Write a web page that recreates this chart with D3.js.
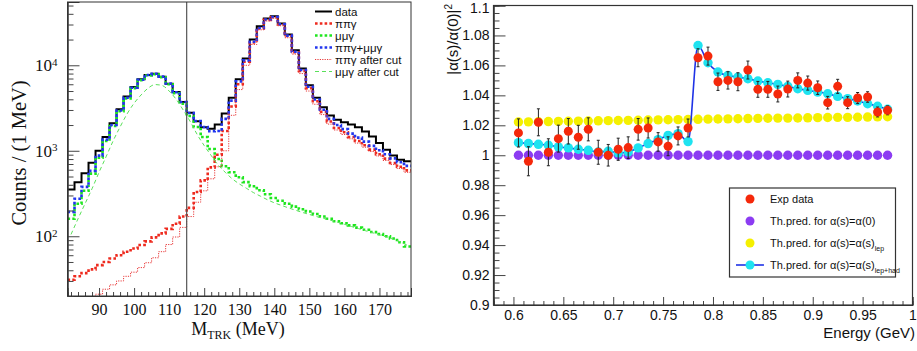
<!DOCTYPE html>
<html>
<head>
<meta charset="utf-8">
<script src="https://cdn.jsdelivr.net/npm/d3@7"></script>
<style>
  body { margin: 0; background: #fff; }
  svg { display: block; }
</style>
</head>
<body>
<div class="chart"></div>
<script>
// ---------- left panel: M_TRK spectrum (2 MeV bins) ----------
const massBins = [82, 84, 86, 88, 90, 92, 94, 96, 98, 100, 102, 104, 106, 108, 110, 112, 114, 116, 118, 120,
  122, 124, 126, 128, 130, 132, 134, 136, 138, 140, 142, 144, 146, 148, 150, 152, 154, 156, 158, 160,
  162, 164, 166, 168, 170, 172, 174, 176, 178];

const dataCounts = [352, 428, 546, 723, 1000, 1445, 2100, 3070, 4300, 5570, 6850, 7690, 7980, 7360, 6100, 4860, 3720, 2790, 2220, 1890,
  1810, 2030, 2720, 4180, 6850, 12000, 20000, 28600, 35200, 37500, 30800, 22900, 15000, 9150, 5830, 4180, 3240, 2590, 2300, 2160,
  2030, 1890, 1680, 1470, 1230, 1030, 881, 784, 756];

const pipiCounts = [31, 34, 37, 41, 46, 50, 55, 60, 66, 72, 79, 87, 97, 108, 122, 140, 170, 215, 330, 450,
  640, 900, 1700, 3300, 6000, 11000, 18500, 27000, 34000, 36500, 30000, 22000, 14200, 8600, 5400, 3800, 2850, 2200, 1850, 1650,
  1450, 1300, 1160, 1030, 910, 810, 720, 650, 590];

const mumuCounts = [160, 240, 340, 540, 830, 1300, 1950, 2900, 4100, 5400, 6700, 7600, 7850, 7250, 6000, 4700, 3550, 2550, 1900, 1450,
  1050, 800, 660, 560, 490, 430, 385, 345, 310, 280, 260, 240, 222, 207, 195, 182, 170, 160, 150, 142,
  134, 126, 119, 112, 106, 100, 94, 85, 76];

const sumCounts = [193, 275, 378, 582, 877, 1350, 2005, 2960, 4170, 5470, 6780, 7690, 7950, 7360, 6120, 4840, 3720, 2765, 2230, 1900,
  1690, 1700, 2360, 3860, 6490, 11430, 18890, 27350, 34310, 36780, 30260, 22240, 14420, 8810, 5600, 3980, 3020, 2360, 2000, 1790,
  1585, 1425, 1280, 1140, 1015, 910, 815, 735, 666];

const pipiCutCounts = [18, 18, 19, 19.5, 21, 24, 27, 30, 34, 38, 43, 49, 56, 66, 80, 98, 127, 170, 250, 340,
  470, 650, 1000, 2600, 5200, 10000, 17500, 26000, 33000, 35500, 29000, 21000, 13500, 8000, 5000, 3500, 2650, 2050, 1750, 1550,
  1380, 1230, 1100, 980, 870, 770, 690, 620, 560];

const mumuCutCounts = [105, 160, 240, 360, 560, 850, 1300, 1900, 2700, 3600, 4500, 5400, 5950, 5800, 5000, 4000, 3000, 2200, 1550, 1150,
  880, 680, 560, 470, 410, 365, 325, 295, 268, 246, 230, 215, 202, 190, 180, 170, 162, 154, 146, 138,
  130, 123, 116, 110, 104, 98, 92, 86, 78];

const massTicks = [90, 100, 110, 120, 130, 140, 150, 160, 170];
const countTicks = [100, 1000, 10000];
const cutMass = 115;

// ---------- right panel: |alpha(s)/alpha(0)|^2 ----------
const energies = [0.605, 0.615, 0.625, 0.635, 0.645, 0.655, 0.665, 0.675, 0.685, 0.695, 0.705, 0.715, 0.725,
  0.735, 0.745, 0.755, 0.765, 0.775, 0.785, 0.795, 0.805, 0.815, 0.825, 0.835, 0.845, 0.855, 0.865,
  0.875, 0.885, 0.895, 0.905, 0.915, 0.925, 0.935, 0.945, 0.955, 0.965, 0.975];

const expRatio = [1.0149, 0.9960, 1.0220, 1.0020, 1.0111, 1.0160, 1.0120, 1.0173, 1.0020, 1.0000, 1.0040, 1.0051, 1.0173,
  1.0182, 1.0089, 1.0060, 1.0129, 1.0182, 1.0651, 1.0662, 1.0491, 1.0500, 1.0491, 1.0569, 1.0440, 1.0440, 1.0409,
  1.0442, 1.0500, 1.0482, 1.0451, 1.0351, 1.0460, 1.0351, 1.0382, 1.0389, 1.0289, 1.0300];

const expError = [0.0094, 0.0097, 0.0090, 0.0090, 0.0090, 0.0085, 0.0080, 0.0077, 0.0080, 0.0072, 0.0074, 0.0072, 0.0072,
  0.0067, 0.0062, 0.0063, 0.0060, 0.0060, 0.0060, 0.0060, 0.0058, 0.0058, 0.0060, 0.0060, 0.0053, 0.0053, 0.0053,
  0.0053, 0.0050, 0.0047, 0.0045, 0.0042, 0.0047, 0.0040, 0.0037, 0.0035, 0.0033, 0.0030];

const predAlpha0 = [1, 1, 1, 1, 1, 1, 1, 1, 1, 1, 1, 1, 1, 1, 1, 1, 1, 1, 1,
  1, 1, 1, 1, 1, 1, 1, 1, 1, 1, 1, 1, 1, 1, 1, 1, 1, 1, 1];

const predLep = [1.0222, 1.0223, 1.0224, 1.0225, 1.0226, 1.0227, 1.0228, 1.0229, 1.0230, 1.0231, 1.0232, 1.0233, 1.0234,
  1.0235, 1.0236, 1.0237, 1.0238, 1.0239, 1.0240, 1.0241, 1.0242, 1.0243, 1.0244, 1.0245, 1.0246, 1.0247, 1.0248,
  1.0248, 1.0249, 1.0250, 1.0251, 1.0252, 1.0253, 1.0253, 1.0254, 1.0255, 1.0256, 1.0257];

const predLepHad = [1.0084, 1.0078, 1.0073, 1.0067, 1.0056, 1.0049, 1.0040, 1.0033, 1.0022, 1.0027, 1.0016, 1.0022, 1.0049,
  1.0078, 1.0104, 1.0133, 1.0144, 1.0091, 1.0733, 1.0618, 1.0556, 1.0533, 1.0522, 1.0511, 1.0496, 1.0484, 1.0473,
  1.0460, 1.0444, 1.0433, 1.0422, 1.0411, 1.0393, 1.0378, 1.0362, 1.0344, 1.0327, 1.0307];

const energyTicks = [0.6, 0.65, 0.7, 0.75, 0.8, 0.85, 0.9, 0.95, 1];
const ratioTicks = [0.9, 0.92, 0.94, 0.96, 0.98, 1, 1.02, 1.04, 1.06, 1.08, 1.1];

const svg = d3.select('.chart')
  .append('svg')
    .attr('width', 917)
    .attr('height', 351);

const serif = 'Liberation Serif, Times New Roman, serif';
const sans = 'Liberation Sans, Arial, Helvetica, sans-serif';

// ====================== left panel ======================
let L = { left: 67.5, right: 411, top: 2, bottom: 296 };

let xM = d3.scaleLinear().domain([81, 179]).range([L.left, L.right]);
let yC = d3.scaleLog().domain([20, 55000]).range([L.bottom, L.top]);

svg.append('clipPath').attr('id', 'clipL')
  .append('rect')
    .attr('x', L.left).attr('y', L.top)
    .attr('width', L.right - L.left).attr('height', L.bottom - L.top);

let gL = svg.append('g').attr('clip-path', 'url(#clipL)');

let clampC = v => Math.max(v, 15);
let stepLine = d3.line().x(d => xM(d[0])).y(d => yC(clampC(d[1])));
let histPoints = vals => vals.flatMap((v, i) => [[massBins[i] - 1, v], [massBins[i] + 1, v]]);

let histSeries = [
  { vals: dataCounts, color: '#000', width: 2, dash: null },
  { vals: mumuCounts, color: '#1ee61e', width: 2.6, dash: '2.6 2.2' },
  { vals: pipiCounts, color: '#ee2a1e', width: 2.6, dash: '2.6 2.2' },
  { vals: sumCounts, color: '#2236ee', width: 2.6, dash: '2.6 2.2' },
  { vals: pipiCutCounts, color: '#e83a3a', width: 1, dash: '1.2 1.2' }
];

histSeries.forEach(s => {
  gL.append('path')
    .attr('d', stepLine(histPoints(s.vals)))
    .attr('fill', 'none')
    .attr('stroke', s.color)
    .attr('stroke-width', s.width)
    .attr('stroke-dasharray', s.dash);
});

gL.append('path')
  .attr('d', d3.line()
    .x((d, i) => xM(massBins[i]))
    .y(d => yC(d))
    .curve(d3.curveMonotoneX)(mumuCutCounts))
  .attr('fill', 'none')
  .attr('stroke', '#5ae05a')
  .attr('stroke-width', 1)
  .attr('stroke-dasharray', '4 3');

// cut line
svg.append('line')
  .attr('x1', xM(cutMass)).attr('x2', xM(cutMass))
  .attr('y1', L.top).attr('y2', L.bottom)
  .attr('stroke', '#555').attr('stroke-width', 1.2);

// axes
let xAxisL = svg.append('g')
  .attr('transform', `translate(0, ${L.bottom})`)
  .call(d3.axisBottom(xM).tickValues(massTicks).tickSize(-8).tickPadding(8));
xAxisL.selectAll('text').attr('font-family', serif).attr('font-size', 16).attr('fill', '#111');

svg.append('g')
  .attr('transform', `translate(0, ${L.bottom})`)
  .call(d3.axisBottom(xM).tickValues(d3.range(82, 179, 2).filter(v => v % 10 !== 0)).tickSize(-4).tickFormat(''));

let yAxisL = svg.append('g')
  .attr('transform', `translate(${L.left}, 0)`)
  .call(d3.axisLeft(yC).tickValues(countTicks).tickSize(-12).tickPadding(10));
yAxisL.selectAll('.tick text').each(function (d) {
  let t = d3.select(this).text('10')
    .attr('font-family', serif).attr('font-size', 17).attr('fill', '#111');
  t.append('tspan').attr('dy', '-0.5em').attr('font-size', 11).text(Math.round(Math.log10(d)));
});

let minorC = [];
[10, 100, 1000, 10000].forEach(dec => {
  for (let k = 2; k <= 9; k++) if (dec * k >= 20 && dec * k <= 55000) minorC.push(dec * k);
});
svg.append('g')
  .attr('transform', `translate(${L.left}, 0)`)
  .call(d3.axisLeft(yC).tickValues(minorC).tickSize(-6).tickFormat(''));

// frame
svg.append('rect')
  .attr('x', L.left).attr('y', L.top)
  .attr('width', L.right - L.left).attr('height', L.bottom - L.top)
  .attr('fill', 'none').attr('stroke', '#333').attr('stroke-width', 1);

// titles
let xt = svg.append('text')
  .attr('x', 238).attr('y', 335)
  .attr('text-anchor', 'middle')
  .attr('font-family', serif).attr('font-size', 18).attr('fill', '#111');
xt.append('tspan').text('M');
xt.append('tspan').attr('dy', 4).attr('font-size', 12).text('TRK');
xt.append('tspan').attr('dy', -4).text(' (MeV)');

svg.append('text')
  .attr('transform', 'translate(26, 153) rotate(-90)')
  .attr('text-anchor', 'middle')
  .attr('font-family', serif).attr('font-size', 20.5).attr('fill', '#111')
  .text('Counts / (1 MeV)');

// legend
let legL = [
  { label: 'data', color: '#000', width: 2, dash: null },
  { label: 'ππγ', color: '#ee2a1e', width: 2.6, dash: '2.6 2.2' },
  { label: 'μμγ', color: '#1ee61e', width: 2.6, dash: '2.6 2.2' },
  { label: 'ππγ+μμγ', color: '#2236ee', width: 2.6, dash: '2.6 2.2' },
  { label: 'ππγ after cut', color: '#e83a3a', width: 1, dash: '1.2 1.2' },
  { label: 'μμγ after cut', color: '#5ae05a', width: 1, dash: '4 3' }
];
let legLg = svg.append('g');
legL.forEach((e, i) => {
  let yy = 11.5 + 12 * i;
  legLg.append('line')
    .attr('x1', 315).attr('x2', 332).attr('y1', yy).attr('y2', yy)
    .attr('stroke', e.color).attr('stroke-width', e.width).attr('stroke-dasharray', e.dash);
  legLg.append('text')
    .attr('x', 335).attr('y', yy + 4)
    .attr('font-family', sans).attr('font-size', 11.5).attr('fill', '#111')
    .text(e.label);
});

// ====================== right panel ======================
let R = { left: 493.5, right: 912.5, top: 5.5, bottom: 305 };

let xE = d3.scaleLinear().domain([0.58, 1.0]).range([R.left, R.right]);
let yR = d3.scaleLinear().domain([0.9, 1.1]).range([R.bottom, R.top]);

let xAxisR = svg.append('g')
  .attr('transform', `translate(0, ${R.bottom})`)
  .call(d3.axisBottom(xE).tickValues(energyTicks).tickSize(-8).tickPadding(5)
    .tickFormat(d => String(+d.toFixed(2))));
xAxisR.selectAll('text').attr('font-family', sans).attr('font-size', 14).attr('fill', '#111');

svg.append('g')
  .attr('transform', `translate(0, ${R.bottom})`)
  .call(d3.axisBottom(xE).tickValues(d3.range(59, 100).filter(v => v % 5 !== 0).map(v => v / 100)).tickSize(-4).tickFormat(''));

let yAxisR = svg.append('g')
  .attr('transform', `translate(${R.left}, 0)`)
  .call(d3.axisLeft(yR).tickValues(ratioTicks).tickSize(-12).tickPadding(4)
    .tickFormat(d => String(+d.toFixed(2))));
yAxisR.selectAll('text').attr('font-family', sans).attr('font-size', 14).attr('fill', '#111');
// keep the top label inside the page
yAxisR.selectAll('.tick text').filter(d => d === 1.1).attr('dy', '0.52em');

svg.append('g')
  .attr('transform', `translate(${R.left}, 0)`)
  .call(d3.axisLeft(yR).tickValues(d3.range(180, 221).filter(v => v % 4 !== 0).map(v => v / 200)).tickSize(-6).tickFormat(''));

svg.selectAll('.domain').attr('stroke', '#333');
svg.selectAll('.tick line').attr('stroke', '#444');

svg.append('rect')
  .attr('x', R.left).attr('y', R.top)
  .attr('width', R.right - R.left).attr('height', R.bottom - R.top)
  .attr('fill', 'none').attr('stroke', '#333').attr('stroke-width', 1.2);

let gR = svg.append('g');

let dotRow = (vals, color, r) => {
  gR.append('g').selectAll('circle')
    .data(vals)
    .enter()
    .append('circle')
      .attr('cx', (d, i) => xE(energies[i]))
      .attr('cy', d => yR(d))
      .attr('r', r)
      .attr('fill', color);
};

dotRow(predAlpha0, '#8c3cf2', 4.7);
dotRow(predLep, '#f5f000', 4.7);

gR.append('path')
  .attr('d', d3.line()
    .x((d, i) => xE(energies[i]))
    .y(d => yR(d))
    .curve(d3.curveMonotoneX)(predLepHad))
  .attr('fill', 'none')
  .attr('stroke', '#1e32e6')
  .attr('stroke-width', 1.6);
dotRow(predLepHad, '#1ee3f0', 4.7);

// error bars
let eb = gR.append('g').attr('stroke', '#222').attr('stroke-width', 1);
expRatio.forEach((v, i) => {
  let cx = xE(energies[i]);
  let y1 = yR(v + expError[i]);
  let y2 = yR(v - expError[i]);
  eb.append('line').attr('x1', cx).attr('x2', cx).attr('y1', y1).attr('y2', y2);
  eb.append('line').attr('x1', cx - 1.5).attr('x2', cx + 1.5).attr('y1', y1).attr('y2', y1);
  eb.append('line').attr('x1', cx - 1.5).attr('x2', cx + 1.5).attr('y1', y2).attr('y2', y2);
});
dotRow(expRatio, '#f5280a', 4.5);

// titles
svg.append('text')
  .attr('x', 915).attr('y', 338)
  .attr('text-anchor', 'end')
  .attr('font-family', sans).attr('font-size', 15).attr('fill', '#111')
  .text('Energy (GeV)');

let yt = svg.append('text')
  .attr('transform', 'translate(458, 4) rotate(-90)')
  .attr('text-anchor', 'end')
  .attr('font-family', sans).attr('font-size', 15).attr('fill', '#111');
yt.append('tspan').text('|α(s)/α(0)|');
yt.append('tspan').attr('dy', -6).attr('font-size', 10).text('2');

// legend box
let legR = svg.append('g');
legR.append('rect')
  .attr('x', 729.5).attr('y', 188).attr('width', 166).attr('height', 89)
  .attr('fill', '#fff').attr('stroke', '#333').attr('stroke-width', 1.2);

let legEntries = [
  { color: '#f5280a', main: 'Exp data', sub: null },
  { color: '#8c3cf2', main: 'Th.pred. for α(s)=α(0)', sub: null },
  { color: '#f5f000', main: 'Th.pred. for α(s)=α(s)', sub: 'lep' },
  { color: '#1ee3f0', main: 'Th.pred. for α(s)=α(s)', sub: 'lep+had' }
];
legEntries.forEach((e, i) => {
  let yy = 199 + 22 * i;
  if (i === 3) {
    legR.append('line')
      .attr('x1', 736).attr('x2', 764).attr('y1', yy).attr('y2', yy)
      .attr('stroke', '#1e32e6').attr('stroke-width', 1.6);
  }
  legR.append('circle').attr('cx', 750).attr('cy', yy).attr('r', 4.5).attr('fill', e.color);
  let t = legR.append('text')
    .attr('x', 770).attr('y', yy + 4)
    .attr('font-family', sans).attr('font-size', 11).attr('fill', '#111');
  t.append('tspan').text(e.main);
  if (e.sub) t.append('tspan').attr('dy', 4).attr('font-size', 7).text(e.sub);
});
</script>
</body>
</html>
